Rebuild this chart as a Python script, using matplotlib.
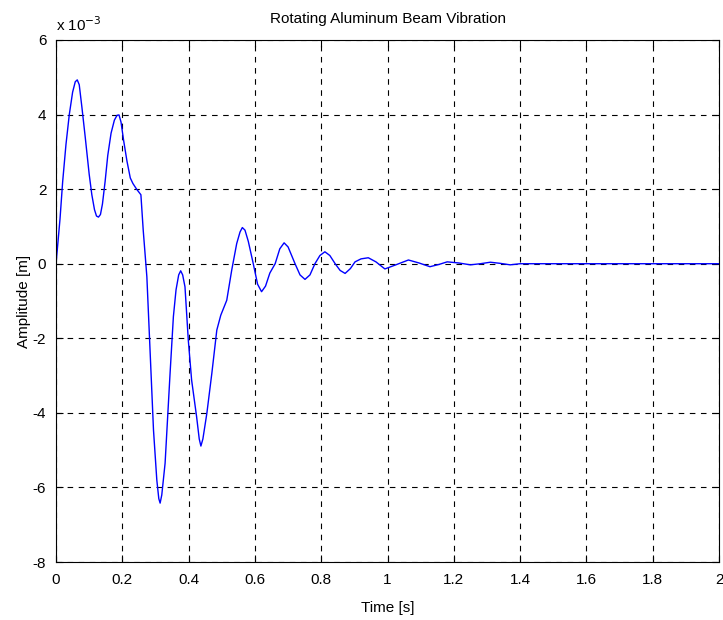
import matplotlib.pyplot as plt
from matplotlib.ticker import FuncFormatter

# time [s] and amplitude [x 1e-3 m]
time = [0.0, 0.004, 0.012, 0.02, 0.03, 0.04, 0.05, 0.058, 0.064, 0.07, 0.078,
        0.088, 0.1, 0.108, 0.116, 0.122, 0.128, 0.134, 0.14, 0.148, 0.156,
        0.166, 0.176, 0.184, 0.19, 0.196, 0.204, 0.214, 0.224, 0.232,
        0.243, 0.256, 0.263, 0.274, 0.284, 0.294, 0.304, 0.31, 0.314,
        0.319, 0.329, 0.344, 0.354, 0.362, 0.37, 0.376, 0.382, 0.389,
        0.399, 0.409, 0.424, 0.432, 0.437, 0.443, 0.455, 0.47, 0.485,
        0.497, 0.515, 0.53, 0.545, 0.555, 0.562, 0.57, 0.58, 0.595,
        0.608, 0.62, 0.632, 0.645, 0.661, 0.675, 0.688, 0.7, 0.721,
        0.736, 0.751, 0.766, 0.781, 0.796, 0.811, 0.826, 0.842, 0.857,
        0.872, 0.888, 0.902, 0.92, 0.942, 0.965, 0.992, 1.025, 1.063,
        1.095, 1.128, 1.155, 1.18, 1.215, 1.25, 1.28, 1.31, 1.34, 1.37,
        1.4, 2.0]
amp = [0.0, 0.4, 1.2, 2.2, 3.2, 4.0, 4.6, 4.88, 4.93, 4.8, 4.2,
       3.4, 2.4, 1.85, 1.45, 1.28, 1.25, 1.32, 1.6, 2.2, 2.9,
       3.5, 3.85, 3.98, 3.99, 3.8, 3.3, 2.75, 2.3, 2.15,
       2.0, 1.85, 0.9, -0.35, -2.4, -4.46, -5.8, -6.3, -6.42,
       -6.2, -5.35, -2.94, -1.42, -0.7, -0.3, -0.19, -0.3, -0.62,
       -2.05, -3.12, -4.1, -4.7, -4.89, -4.7, -4.01, -2.94, -1.78,
       -1.38, -0.98, -0.17, 0.54, 0.85, 0.97, 0.9, 0.6, 0.0,
       -0.55, -0.75, -0.6, -0.25, 0.0, 0.4, 0.56, 0.45, 0.0,
       -0.3, -0.42, -0.3, 0.0, 0.22, 0.32, 0.22, 0.0, -0.18,
       -0.26, -0.13, 0.05, 0.13, 0.16, 0.05, -0.14, -0.03, 0.1,
       0.02, -0.08, -0.02, 0.05, 0.02, -0.03, 0.0, 0.04, 0.01, -0.03,
       0.0, 0.0]

xticks = [0, 0.2, 0.4, 0.6, 0.8, 1, 1.2, 1.4, 1.6, 1.8, 2]
yticks = [-8, -6, -4, -2, 0, 2, 4, 6]

plt.rcParams['font.family'] = ['Liberation Sans', 'DejaVu Sans']

fig = plt.figure(figsize=(7.23, 6.2), dpi=100)
ax = fig.add_axes([0.0775, 0.0935, 0.917, 0.842])

ax.plot(time, [a * 1e-3 for a in amp], color='#0000ff', linewidth=1.0)

ax.set_xlim(0, 2)
ax.set_ylim(-8e-3, 6e-3)
ax.set_xticks(xticks)
ax.set_yticks([v * 1e-3 for v in yticks])
ax.xaxis.set_major_formatter(FuncFormatter(lambda v, p: '%g' % v))
ax.yaxis.set_major_formatter(FuncFormatter(lambda v, p: '%g' % round(v * 1e3)))
ax.tick_params(direction='in', length=5, width=0.8, top=True, right=True,
               labelsize=11)
ax.tick_params(axis='x', pad=8)
ax.tick_params(axis='y', pad=7)
ax.grid(True, color='black', linestyle=(0, (5, 5)), linewidth=0.8)
for s in ax.spines.values():
    s.set_linewidth(0.8)

ax.text(0.0, 1.012, 'x 10$^{-3}$', transform=ax.transAxes, fontsize=11,
        ha='left', va='bottom')
ax.set_title('Rotating Aluminum Beam Vibration', fontsize=11, pad=12)
ax.set_xlabel('Time [s]', fontsize=11, labelpad=10)
ax.set_ylabel('Amplitude [m]', fontsize=11, labelpad=1)

fig.savefig('out.png', dpi=100)
